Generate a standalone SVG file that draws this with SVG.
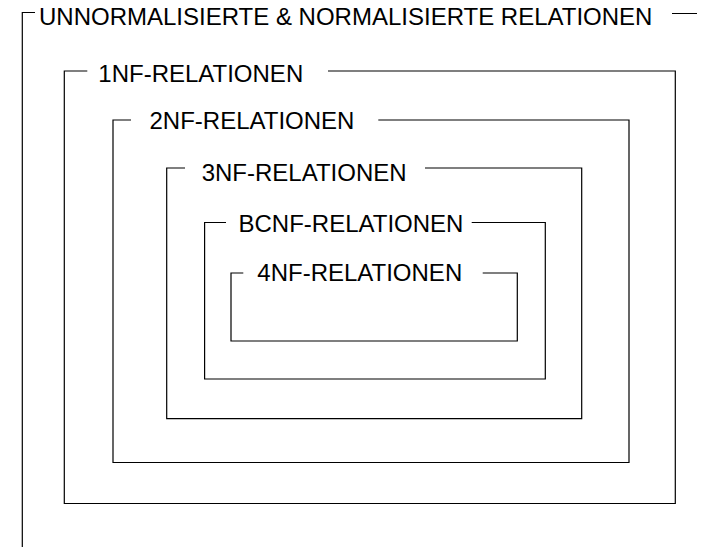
<svg xmlns="http://www.w3.org/2000/svg" width="702" height="547" viewBox="0 0 702 547">
<style>
.frame{fill:none;stroke:#000;stroke-width:1.2}
.lbl{font-family:"Liberation Sans",Arial,sans-serif;font-size:24px;fill:#000}
</style>
<rect width="702" height="547" fill="#fff"/>
<g id="unnormalisiert">
<path class="frame" d="M35,12.5 H22.3 V547 M672,13.5 H697"/>
<text class="lbl" x="39" y="25">UNNORMALISIERTE &amp; NORMALISIERTE RELATIONEN</text>
</g>
<g id="nf1">
<path class="frame" d="M87.3,71 H64.3 V503.5 H675.3 V71 H328"/>
<text class="lbl" x="98.3" y="81.7">1NF-RELATIONEN</text>
</g>
<g id="nf2">
<path class="frame" d="M131,120 H113 V462.5 H629 V120 H378.3"/>
<text class="lbl" x="149.5" y="129.3">2NF-RELATIONEN</text>
</g>
<g id="nf3">
<path class="frame" d="M185,168 H166.7 V418.7 H581.7 V168 H425"/>
<text class="lbl" x="201.7" y="180.7">3NF-RELATIONEN</text>
</g>
<g id="bcnf">
<path class="frame" d="M226,222.5 H204.6 V379 H545.3 V222.5 H471.7"/>
<text class="lbl" x="238.5" y="232">BCNF-RELATIONEN</text>
</g>
<g id="nf4">
<path class="frame" d="M243.3,273 H231 V341 H517.3 V273 H482.7"/>
<text class="lbl" x="257.3" y="281">4NF-RELATIONEN</text>
</g>
</svg>
